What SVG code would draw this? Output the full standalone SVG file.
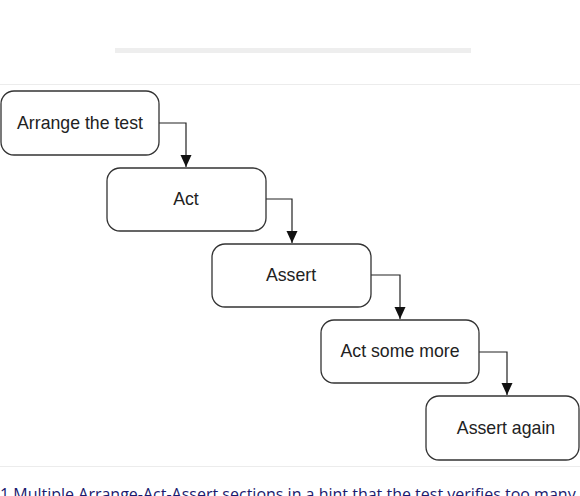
<svg xmlns="http://www.w3.org/2000/svg" width="580" height="496" viewBox="0 0 580 496">
<style>
.node rect{fill:#fff;stroke:#333;stroke-width:1.3}
.node text{font-family:"Liberation Sans",Arial,sans-serif;font-size:17.7px;fill:#222;text-anchor:middle}
.conn path{fill:none;stroke:#222;stroke-width:1.2}
.rule{stroke:#ececec;stroke-width:1}
</style>
<defs>
<marker id="arr" viewBox="0 0 12 12" refX="12" refY="6" markerWidth="12" markerHeight="12" markerUnits="userSpaceOnUse" orient="auto">
<path d="M0,0.5 L12,6 L0,11.5 Z" fill="#111"/>
</marker>
</defs>
<rect x="0" y="0" width="580" height="496" fill="#fff"/>
<rect x="115" y="48" width="356" height="5" fill="#eeeeee"/>
<line class="rule" x1="0" y1="84.5" x2="580" y2="84.5"/>
<line class="rule" x1="0" y1="466.5" x2="580" y2="466.5"/>
<g class="conn">
<path d="M159,123 H186 V167" marker-end="url(#arr)"/>
<path d="M266,199 H292 V243" marker-end="url(#arr)"/>
<path d="M371,275 H400 V319" marker-end="url(#arr)"/>
<path d="M479,352 H507 V395" marker-end="url(#arr)"/>
</g>
<g class="node" id="n1"><rect x="1" y="91" width="158" height="64" rx="13"/><text x="80" y="129">Arrange the test</text></g>
<g class="node" id="n2"><rect x="107" y="168" width="159" height="63" rx="13"/><text x="186" y="205">Act</text></g>
<g class="node" id="n3"><rect x="212" y="244" width="159" height="63" rx="13"/><text x="291" y="281">Assert</text></g>
<g class="node" id="n4"><rect x="321" y="320" width="158" height="63" rx="13"/><text x="400" y="357">Act some more</text></g>
<g class="node" id="n5"><rect x="426" y="396" width="153" height="64" rx="13"/><text x="506" y="434">Assert again</text></g>
<text x="0" y="500" font-family="'Open Sans','Liberation Sans',sans-serif" font-size="16" fill="#1a1a6e">1 Multiple Arrange-Act-Assert sections in a hint that the test verifies too many</text>
</svg>
